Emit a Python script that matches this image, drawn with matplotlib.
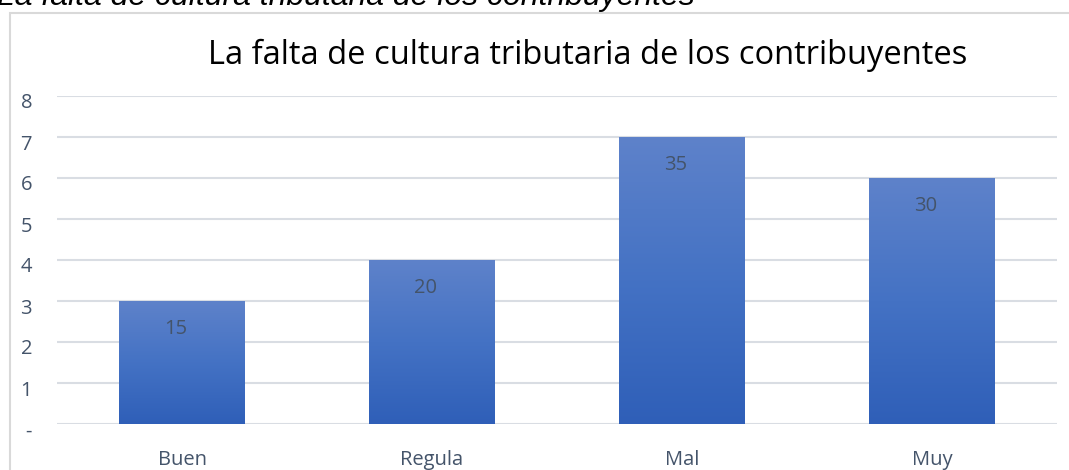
import numpy as np
import matplotlib
matplotlib.use("Agg")
from matplotlib import pyplot as plt
from matplotlib.colors import LinearSegmentedColormap
from matplotlib.patches import Rectangle
from matplotlib.transforms import ScaledTranslation

categories = ["Buen", "Regula", "Mal", "Muy"]
values = [3, 4, 7, 6]
labels = ["15", "20", "35", "30"]
yticks = [0, 1, 2, 3, 4, 5, 6, 7, 8]
ytick_labels = ["-", "1", "2", "3", "4", "5", "6", "7", "8"]

title = "La falta de cultura tributaria de los contribuyentes"
caption = "La falta de cultura tributaria de los contribuyentes"

txt_color = "#44546a"
grid_color = "#d9dde3"
grad = LinearSegmentedColormap.from_list("bar", ["#2f5fb8", "#4472c4", "#5e82ca"])

plt.rcParams['font.family'] = ['Open Sans', 'DejaVu Sans']

fig = plt.figure(figsize=(10.69, 4.70), dpi=100)
ax = fig.add_axes([57 / 1069, 1 - 424 / 470, 1000 / 1069, 328 / 470])

x = np.arange(len(categories))
bars = ax.bar(x, values, width=0.504, color="#4472c4", zorder=2)

# vertical gradient inside each bar
g = np.linspace(0, 1, 256).reshape(-1, 1)
for b in bars:
    x0, y0 = b.get_x(), b.get_y()
    w, h = b.get_width(), b.get_height()
    b.set_facecolor("none")
    im = ax.imshow(g, cmap=grad, origin="lower", aspect="auto",
                   extent=[x0, x0 + w, y0, y0 + h], zorder=2)
    im.set_clip_path(b)

for xi, v, lab in zip(x, values, labels):
    ax.text(xi - 0.025, v - 0.68, lab, ha="center", va="center",
            fontsize=14.5, color=txt_color, zorder=3)

ax.set_xlim(-0.5, len(categories) - 0.5)
ax.set_ylim(0, 8)
ax.set_yticks(yticks)
ax.set_yticklabels(ytick_labels)
ax.set_xticks(x)
ax.set_xticklabels(categories)
ax.tick_params(axis="y", length=0, pad=18, labelsize=14.5, labelcolor=txt_color)
ax.tick_params(axis="x", length=0, pad=19, labelsize=14.5, labelcolor=txt_color)
shift = ScaledTranslation(0, -5 / 100, fig.dpi_scale_trans)
for lab in ax.get_yticklabels():
    lab.set_transform(lab.get_transform() + shift)
ax.grid(axis="y", color=grid_color, linewidth=1.5, zorder=0)
for s in ax.spines.values():
    s.set_visible(False)

# outer chart frame
fig.patches.append(Rectangle((10 / 1069, -0.1), 1.2, 1 - 13 / 470 + 0.1,
                             transform=fig.transFigure, fill=False,
                             edgecolor="#d9d9d9", linewidth=1.5))

fig.text(588 / 1069, 1 - 55 / 470, title, ha="center", va="center",
         fontsize=23.5, color="black")
fig.text(-3 / 1069, 1 - 5 / 470, caption, ha="left", va="baseline",
         fontsize=23, style="italic", family=["Liberation Sans", "DejaVu Sans"],
         color="black")

fig.savefig("out.png", dpi=100)
